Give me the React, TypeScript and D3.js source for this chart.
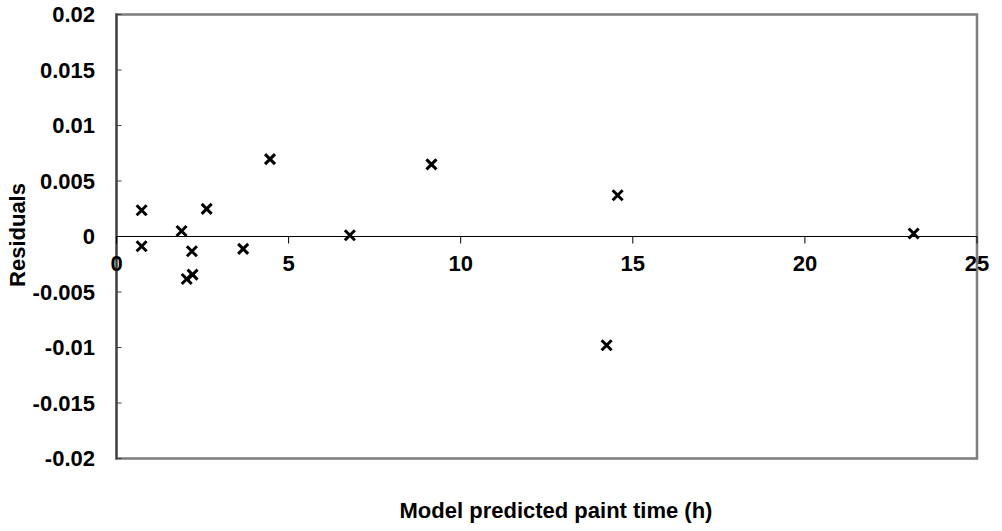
import React from "react";
import * as d3 from "d3";

const predictedTime = [0.73, 0.73, 1.89, 2.62, 2.19, 2.04, 2.21, 3.68, 4.46, 6.78, 9.15, 14.56, 14.24, 23.16];
const residuals = [0.00237, -0.00088, 0.0005, 0.00249, -0.00133, -0.00383, -0.00343, -0.00112, 0.00697, 0.00011, 0.0065, 0.00372, -0.0098, 0.00027];
const xTicks = [0, 5, 10, 15, 20, 25];
const yTicks = [0.02, 0.015, 0.01, 0.005, 0, -0.005, -0.01, -0.015, -0.02];
const xTitle = "Model predicted paint time (h)";
const yTitle = "Residuals";

export default function App() {
  const W = 1002, H = 531;
  const left = 116.5, right = 977, top = 14.5, bottom = 458.5;
  const x = d3.scaleLinear().domain([0, 25]).range([left, right]);
  const y = d3.scaleLinear().domain([-0.02, 0.02]).range([bottom, top]);
  const font = "'Liberation Sans', Arial, sans-serif";
  const fmtY = (v: number) => (v === 0 ? "0" : String(+v.toFixed(3)));
  const m = 5;
  const fs = 22;
  return (
    <svg width={W} height={H} style={{ position: "absolute", left: 0, top: 0 }}>
      <rect x={0} y={0} width={W} height={H} fill="#fff" />
      <rect x={left} y={top} width={right - left} height={bottom - top} fill="none" stroke="#808080" strokeWidth={2.6} />
      <line x1={left} x2={left} y1={top - 1} y2={bottom + 1} stroke="#404040" strokeWidth={2} />
      {yTicks.map((t) => (
        <g key={"y" + t}>
          <line x1={left} x2={left + 5} y1={y(t)} y2={y(t)} stroke="#404040" strokeWidth={1} />
          <text x={95} y={y(t)} dy="0.36em" textAnchor="end" fontFamily={font} fontWeight="bold" fontSize={fs} fill="#000">
            {fmtY(t)}
          </text>
        </g>
      ))}
      <line x1={left} x2={right} y1={y(0)} y2={y(0)} stroke="#000" strokeWidth={1} />
      {xTicks.map((t) => (
        <g key={"x" + t}>
          <line x1={x(t)} x2={x(t)} y1={y(0)} y2={y(0) + 7} stroke="#000" strokeWidth={1} />
          <text x={x(t)} y={271} textAnchor="middle" fontFamily={font} fontWeight="bold" fontSize={fs} fill="#000">
            {t}
          </text>
        </g>
      ))}
      {predictedTime.map((v, i) => {
        const cx = x(v), cy = y(residuals[i]);
        return (
          <path key={i} d={`M${cx - m},${cy - m}L${cx + m},${cy + m}M${cx - m},${cy + m}L${cx + m},${cy - m}`} stroke="#000" strokeWidth={3} fill="none" />
        );
      })}
      <text x={556} y={518} textAnchor="middle" fontFamily={font} fontWeight="bold" fontSize={fs} fill="#000">
        {xTitle}
      </text>
      <text transform={`translate(25,235) rotate(-90)`} textAnchor="middle" fontFamily={font} fontWeight="bold" fontSize={fs} fill="#000">
        {yTitle}
      </text>
    </svg>
  );
}
